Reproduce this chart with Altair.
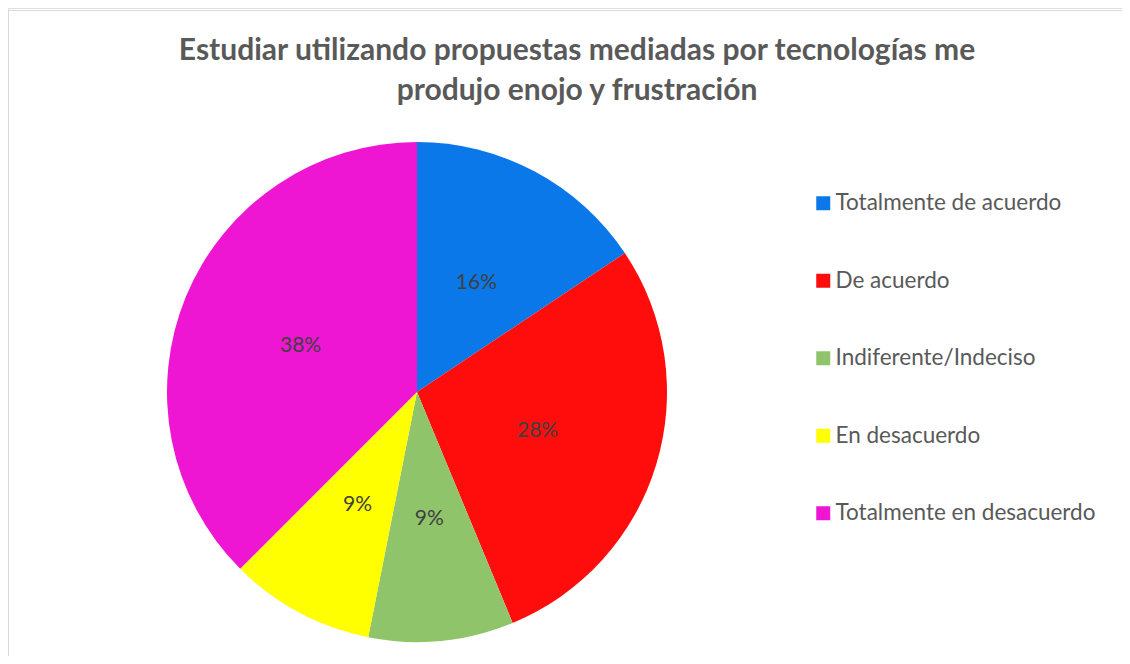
import altair as alt
import pandas as pd

categories = ["Totalmente de acuerdo", "De acuerdo", "Indiferente/Indeciso",
              "En desacuerdo", "Totalmente en desacuerdo"]
counts = [5, 9, 3, 3, 12]
labels = ["16%", "28%", "9%", "9%", "38%"]
colors = ["#0A78E9", "#FF0D0D", "#8FC46B", "#FFFF00", "#EE16D3"]
order = [0, 1, 2, 3, 4]

title_lines = ["Estudiar utilizando propuestas mediadas por tecnologías me",
               "produjo enojo y frustración"]

df = pd.DataFrame({"cat": categories, "n": counts, "label": labels, "ord": order})
title_df = pd.DataFrame({"t": title_lines, "row": [0, 1]})

FONT = "Lato"
CX, CY = 409, 384

base = alt.Chart(df).encode(
    theta=alt.Theta("n:Q", stack=True),
    order=alt.Order("ord:Q"),
)

pie = base.mark_arc(radius=250).encode(
    x=alt.value(CX), y=alt.value(CY),
    color=alt.Color(
        "cat:N",
        scale=alt.Scale(domain=categories, range=colors),
        sort=categories,
        legend=alt.Legend(
            title=None, orient="none", legendX=804, legendY=184,
            symbolType="square", symbolSize=196, symbolStrokeWidth=0,
            labelFont=FONT, labelFontSize=22.5, labelColor="#595959",
            labelOffset=1, rowPadding=54.5, labelLimit=400,
        ),
    ),
)

text = base.mark_text(radius=126, font=FONT, fontSize=21, color="#404040").encode(
    x=alt.value(CX), y=alt.value(CY + 2), text="label:N"
)

title1 = alt.Chart(title_df).transform_filter("datum.row == 0").mark_text(
    font=FONT, fontSize=30, fontWeight="bold", color="#595959",
    align="center", baseline="alphabetic",
).encode(x=alt.value(569), y=alt.value(52), text="t:N")
title2 = alt.Chart(title_df).transform_filter("datum.row == 1").mark_text(
    font=FONT, fontSize=30, fontWeight="bold", color="#595959",
    align="center", baseline="alphabetic",
).encode(x=alt.value(569), y=alt.value(92), text="t:N")

frame = alt.Chart(alt.Data(values=[{"a": 1}]))
top_line = frame.mark_rule(color="#D9D9D9", strokeWidth=1).encode(
    x=alt.value(0), x2=alt.value(1130), y=alt.value(2.5)
)
left_line = frame.mark_rule(color="#D9D9D9", strokeWidth=1).encode(
    x=alt.value(0.5), y=alt.value(2.5), y2=alt.value(660)
)

chart = alt.layer(top_line, left_line, pie, text, title1, title2).properties(
    width=1114, height=648,
    padding=0,
    autosize=alt.AutoSizeParams(type="none"),
).configure_view(strokeWidth=0).configure(background="white")

chart.save("out.html", embed_options={"renderer": "svg", "actions": False})
